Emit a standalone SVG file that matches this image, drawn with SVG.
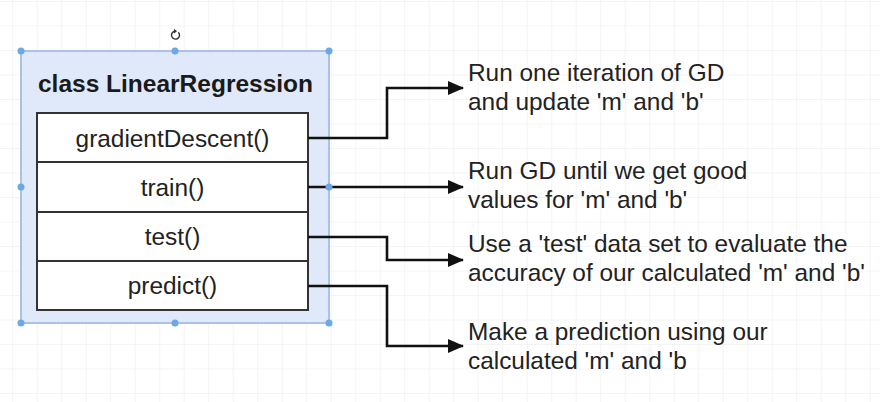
<svg xmlns="http://www.w3.org/2000/svg" width="880" height="402" viewBox="0 0 880 402">
  <style>
    .row { fill: #ffffff; stroke: #333333; stroke-width: 2; }
    .lbl { font-family: "Liberation Sans", Arial, sans-serif; font-size: 24.4px; fill: #222222; }
    .title { font-family: "Liberation Sans", Arial, sans-serif; font-size: 24.5px; font-weight: bold; fill: #1a1a1a; }
    .conn { fill: none; stroke: #111111; stroke-width: 2.6; }
    .handle { fill: #6aa8e6; }
  </style>
  <defs>
    <pattern id="grid" x="12.25" y="1" width="24.5" height="24.5" patternUnits="userSpaceOnUse">
      <path d="M0 0 H24.5 M0 0 V24.5" fill="none" stroke="#eaeaea" stroke-width="1"/>
    </pattern>
    <marker id="arrow" markerWidth="16" markerHeight="14" refX="15" refY="7" orient="auto" markerUnits="userSpaceOnUse">
      <path d="M0 0 L16 7 L0 14 Z" fill="#111111"/>
    </marker>
  </defs>
  <rect width="880" height="402" fill="#ffffff"/>
  <rect width="880" height="402" fill="url(#grid)"/>

  <g id="class-LinearRegression">
    <rect x="21" y="51" width="308" height="272" fill="#dfe9f9" stroke="#a8c3e6" stroke-width="2"/>
    <text class="title" x="175.5" y="92" text-anchor="middle">class LinearRegression</text>
  </g>
  <g id="gradientDescent">
    <rect class="row" x="37" y="113" width="271" height="49"/>
    <text class="lbl" x="172.5" y="146.5" text-anchor="middle">gradientDescent()</text>
  </g>
  <g id="train">
    <rect class="row" x="37" y="162" width="271" height="50"/>
    <text class="lbl" x="172.5" y="195.5" text-anchor="middle">train()</text>
  </g>
  <g id="test">
    <rect class="row" x="37" y="212" width="271" height="49"/>
    <text class="lbl" x="172.5" y="244.5" text-anchor="middle">test()</text>
  </g>
  <g id="predict">
    <rect class="row" x="37" y="261" width="271" height="49"/>
    <text class="lbl" x="172.5" y="293.5" text-anchor="middle">predict()</text>
  </g>

  <g id="connectors">
    <path class="conn" d="M308 138 H387 V88 H463" marker-end="url(#arrow)"/>
    <path class="conn" d="M308 187 H463" marker-end="url(#arrow)"/>
    <path class="conn" d="M308 237 H387 V260 H463" marker-end="url(#arrow)"/>
    <path class="conn" d="M308 286 H387 V346 H463" marker-end="url(#arrow)"/>
  </g>

  <g id="selection">
    <circle class="handle" cx="21" cy="51" r="3.5"/>
    <circle class="handle" cx="175" cy="51" r="3.5"/>
    <circle class="handle" cx="329" cy="51" r="3.5"/>
    <circle class="handle" cx="21" cy="187" r="3.5"/>
    <circle class="handle" cx="329" cy="187" r="3.5"/>
    <circle class="handle" cx="21" cy="323" r="3.5"/>
    <circle class="handle" cx="175" cy="323" r="3.5"/>
    <circle class="handle" cx="329" cy="323" r="3.5"/>
    <path d="M178.3 32.2 A4 4 0 1 1 174.5 31.2" fill="none" stroke="#333333" stroke-width="1.4"/>
    <path d="M174 28.8 L177 31.3 L174 33.6 Z" fill="#333333"/>
  </g>

  <g id="note-gd">
    <text class="lbl" x="468" y="81">Run one iteration of GD</text>
    <text class="lbl" x="468" y="110">and update 'm' and 'b'</text>
  </g>
  <g id="note-train">
    <text class="lbl" x="468" y="179">Run GD until we get good</text>
    <text class="lbl" x="468" y="208">values for 'm' and 'b'</text>
  </g>
  <g id="note-test">
    <text class="lbl" x="468" y="252">Use a 'test' data set to evaluate the</text>
    <text class="lbl" x="468" y="281">accuracy of our calculated 'm' and 'b'</text>
  </g>
  <g id="note-predict">
    <text class="lbl" x="468" y="340">Make a prediction using our</text>
    <text class="lbl" x="468" y="369">calculated 'm' and 'b</text>
  </g>
</svg>
